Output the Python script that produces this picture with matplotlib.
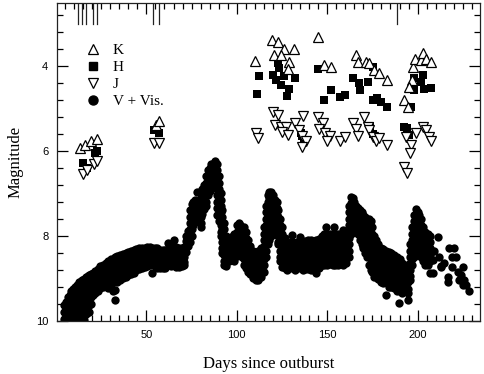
import numpy as np
import matplotlib
matplotlib.use("Agg")
import matplotlib.pyplot as plt
from matplotlib.ticker import MultipleLocator
from matplotlib.lines import Line2D

# ---------------- data (days since outburst, magnitude) ----------------
k_days = [13.5, 16.3, 19.1, 22.4, 55.1, 56.9, 110.1, 119.7, 123.0, 126.1, 131.7, 120.6, 124.3,
          128.9, 128.5, 145.0, 148.3, 152.0, 165.9, 167.3, 171.4, 173.2, 176.0, 178.8, 183.0,
          192.6, 194.5, 197.2, 198.7, 201.9, 203.2, 204.7, 207.4, 196.9, 195.0]
k_mags = [5.94, 5.86, 5.78, 5.72, 5.39, 5.31, 3.88, 3.40, 3.45, 3.61, 3.61, 3.74, 3.74,
          3.92, 4.07, 3.32, 3.98, 4.02, 3.74, 3.92, 3.90, 3.94, 4.09, 4.16, 4.33,
          4.80, 4.96, 4.02, 3.84, 3.86, 3.69, 3.84, 3.90, 4.33, 4.50]

h_days = [15.0, 21.8, 22.8, 17.0, 54.1, 56.9, 111.0, 112.3, 120.2, 122.8, 123.4, 121.6, 124.3,
          126.1, 128.9, 128.0, 132.2, 145.1, 148.3, 152.0, 157.2, 159.9, 164.0, 167.7, 168.3,
          172.3, 175.1, 175.5, 177.5, 179.7, 183.0, 196.3, 198.2, 201.9, 202.8, 203.7, 198.2,
          207.4, 194.1, 195.4, 192.6, 136.2, 137.4, 135.6, 173.8, 175.5]
h_mags = [6.28, 6.06, 6.00, 6.40, 5.52, 5.57, 4.67, 4.24, 4.21, 3.94, 4.05, 4.33, 4.45,
          4.23, 4.54, 4.72, 4.28, 4.08, 4.80, 4.57, 4.74, 4.68, 4.28, 4.41, 4.57,
          4.37, 4.02, 4.81, 4.76, 4.84, 4.97, 4.97, 4.28, 4.39, 4.22, 4.55, 4.57,
          4.52, 5.47, 5.63, 5.43, 5.66, 5.76, 5.58, 5.41, 5.60]

j_days = [15.0, 17.2, 20.9, 22.7, 54.1, 56.9, 110.8, 111.7, 120.1, 122.8, 121.0, 124.3, 127.1,
          125.2, 128.4, 132.1, 136.8, 134.5, 136.0, 138.2, 136.3, 145.0, 147.9, 145.5, 148.7,
          151.6, 150.1, 157.2, 159.8, 164.0, 165.9, 167.1, 170.1, 172.3, 173.2, 175.1, 177.0,
          178.8, 183.0, 193.6, 196.3, 196.0, 192.6, 194.1, 202.8, 204.7, 206.5, 207.4, 199.1]
j_mags = [6.54, 6.45, 6.31, 6.23, 5.81, 5.81, 5.59, 5.70, 5.08, 5.15, 5.39, 5.43, 5.43,
          5.55, 5.63, 5.34, 5.18, 5.51, 5.65, 5.78, 5.90, 5.21, 5.34, 5.49, 5.59,
          5.65, 5.76, 5.78, 5.67, 5.34, 5.49, 5.65, 5.21, 5.43, 5.51, 5.67, 5.78,
          5.70, 5.86, 5.67, 5.86, 6.06, 6.37, 6.53, 5.43, 5.51, 5.67, 5.78, 5.59]

# V + visual estimates: nights and the magnitudes read for each night
v_nights = [4.5, 5.5, 6.5, 7.5, 8.5, 9.5, 10.5, 11.5, 12.5, 13.5, 14.5, 15.5, 16.5, 17.5, 18.5,
            19.5, 20.5, 21.5, 23, 24.5, 26, 27.5, 29, 30.5, 31.5, 32.5, 34, 35.5, 37, 38.5,
            40, 41.5, 43, 44.5, 46, 47.5, 49, 50.5, 52, 53.2, 54.5, 56, 57.5, 59, 60.5,
            62, 63.5, 65, 66.5, 68, 69.5, 71, 72, 73, 74, 75, 76, 77, 78.1, 79,
            80, 81, 82, 83, 84, 85, 86, 87, 88, 89, 90, 91, 92, 93, 94,
            95.5, 97, 98.5, 100, 101, 102, 103, 104, 105, 106, 107.5, 109, 110.5, 112, 113.5,
            115, 116, 117, 118, 119, 120, 121, 122, 123, 124, 125, 126.5, 128, 129.5, 130.7,
            132, 133.5, 135, 136.5, 138, 139.5, 141, 142.5, 144, 145.5, 147, 148.5, 149.2, 150,
            151.5, 153, 153.8, 154.5, 156, 157.5, 159, 160.5, 162, 163, 164, 165, 166, 167,
            168, 169, 170, 171, 172, 173, 174, 175, 176, 177, 178, 179.5, 181, 182.5, 184,
            185.5, 187, 188.5, 189.5, 190, 191.5, 193, 194.5, 196, 197, 198, 199, 200, 201,
            202, 203, 204, 205.5, 207, 208.3, 209.3, 211.1, 211.9, 213, 214.8, 216.6, 217.6,
            219.1, 220.3, 221.3, 222.2, 223.1, 224.0, 224.9, 225.9, 226.8, 228.6]
v_mags = [
    [9.62, 9.8, 9.95], [9.55, 9.7, 9.88, 10.0], [9.45, 9.6, 9.78, 9.95],
    [9.4, 9.55, 9.7, 9.85, 9.98], [9.3, 9.45, 9.6, 9.76, 9.9], [9.25, 9.4, 9.55, 9.7, 9.85],
    [9.2, 9.35, 9.5, 9.65, 9.8, 9.95], [9.15, 9.3, 9.45, 9.6, 9.75, 9.9],
    [9.1, 9.25, 9.4, 9.55, 9.7, 9.85, 9.98], [9.08, 9.22, 9.36, 9.5, 9.65, 9.8, 9.92],
    [9.05, 9.18, 9.32, 9.48, 9.62, 9.76, 9.9], [9.02, 9.15, 9.3, 9.45, 9.6, 9.75, 9.9, 9.98],
    [8.98, 9.12, 9.26, 9.4, 9.55, 9.7, 9.84], [8.95, 9.08, 9.22, 9.36, 9.5, 9.65, 9.8],
    [8.93, 9.06, 9.2, 9.34, 9.48, 9.62, 9.79], [8.9, 9.03, 9.16, 9.3, 9.45, 9.6],
    [8.88, 9.0, 9.13, 9.26, 9.4], [8.82, 8.95, 9.08, 9.22, 9.35], [8.78, 8.9, 9.03, 9.16, 9.3],
    [8.72, 8.85, 8.98, 9.1, 9.22], [8.68, 8.8, 8.93, 9.06, 9.2], [8.65, 8.78, 8.9, 9.03, 9.16],
    [8.6, 8.72, 8.85, 8.98, 9.1, 9.22], [8.55, 8.68, 8.8, 8.93, 9.06, 9.2], [8.65, 8.8, 9.3],
    [8.5, 8.64, 8.78, 8.92, 9.06, 9.28, 9.51], [8.48, 8.6, 8.72, 8.85, 8.98, 9.1],
    [8.45, 8.57, 8.7, 8.82, 8.95, 9.05], [8.42, 8.54, 8.66, 8.78, 8.9, 9.0],
    [8.4, 8.52, 8.64, 8.76, 8.88, 8.96], [8.38, 8.5, 8.62, 8.74, 8.86, 8.93],
    [8.36, 8.48, 8.6, 8.72, 8.84, 8.9], [8.34, 8.46, 8.58, 8.7, 8.82, 8.88],
    [8.32, 8.44, 8.56, 8.68, 8.8], [8.3, 8.42, 8.54, 8.66, 8.78], [8.3, 8.41, 8.52, 8.64, 8.76],
    [8.28, 8.4, 8.52, 8.64, 8.74], [8.27, 8.38, 8.5, 8.62, 8.72], [8.26, 8.37, 8.48, 8.6, 8.7],
    [8.3, 8.45, 8.88], [8.28, 8.4, 8.52, 8.64, 8.72],
    [8.3, 8.42, 8.54, 8.66, 8.76], [8.33, 8.45, 8.57, 8.68, 8.76], [8.33, 8.45, 8.57, 8.68, 8.76],
    [8.33, 8.45, 8.57, 8.68, 8.76],
    [8.18, 8.32, 8.45, 8.58, 8.7], [8.2, 8.33, 8.46, 8.6, 8.72], [8.1, 8.28, 8.42, 8.56, 8.7],
    [8.26, 8.38, 8.5, 8.62, 8.74], [8.28, 8.4, 8.52, 8.64, 8.74], [8.28, 8.4, 8.52, 8.64, 8.72],
    [8.26, 8.38, 8.5, 8.62, 8.7],
    [8.0, 8.12, 8.25, 8.38], [7.88, 8.0, 8.12, 8.25], [7.4, 7.55, 7.7, 7.85, 8.0, 8.15],
    [7.25, 7.4, 7.55, 7.7, 7.85, 8.0], [7.2, 7.33, 7.47, 7.6, 7.75], [7.15, 7.28, 7.42, 7.55, 7.68],
    [6.96, 7.2, 7.35, 7.5], [7.2, 7.32, 7.45, 7.58],
    [7.1, 7.25, 7.4, 7.55, 7.7, 7.8], [6.9, 7.04, 7.18, 7.32, 7.48], [6.8, 6.94, 7.08, 7.22, 7.38],
    [6.6, 6.75, 6.9, 7.05, 7.2, 7.3], [6.45, 6.6, 6.75, 6.9, 7.05], [6.4, 6.53, 6.67, 6.8, 6.95],
    [6.32, 6.45, 6.58, 6.72, 6.85], [6.3, 6.42, 6.55, 6.68], [6.25, 6.38, 6.5, 6.62],
    [6.3, 6.45, 6.6, 6.75, 6.9, 7.05, 7.2, 7.35, 7.5], [6.6, 6.75, 6.9, 7.05, 7.2, 7.35, 7.5, 7.65],
    [7.0, 7.15, 7.3, 7.45, 7.6, 7.75, 7.9, 8.0], [7.4, 7.55, 7.7, 7.85, 8.0, 8.15, 8.3, 8.4],
    [7.7, 7.85, 8.0, 8.15, 8.3, 8.45, 8.6, 8.7], [8.0, 8.14, 8.28, 8.42, 8.56, 8.72],
    [8.1, 8.22, 8.35, 8.48, 8.6], [8.02, 8.15, 8.28, 8.42, 8.56], [7.95, 8.08, 8.22, 8.36, 8.5, 8.6],
    [7.75, 7.9, 8.05, 8.2, 8.35, 8.48], [7.7, 7.85, 8.0, 8.15, 8.3, 8.4], [7.75, 7.9, 8.05, 8.2, 8.35],
    [7.8, 7.95, 8.1, 8.25, 8.4, 8.5], [7.8, 7.95, 8.1, 8.25, 8.4, 8.55, 8.7],
    [7.9, 8.05, 8.2, 8.35, 8.5, 8.62, 8.75], [8.1, 8.25, 8.4, 8.55, 8.7, 8.85],
    [8.25, 8.38, 8.5, 8.64, 8.78, 8.9], [8.35, 8.48, 8.6, 8.74, 8.88, 9.0],
    [8.4, 8.53, 8.66, 8.8, 8.93, 9.03], [8.35, 8.48, 8.62, 8.76, 8.9, 9.04],
    [8.3, 8.44, 8.58, 8.72, 8.86, 8.98],
    [7.8, 7.95, 8.1, 8.25, 8.4, 8.55, 8.7, 8.85], [7.3, 7.45, 7.6, 7.75, 7.9, 8.05, 8.2, 8.35, 8.5],
    [7.05, 7.2, 7.35, 7.5, 7.65, 7.8, 7.95, 8.1, 8.2], [6.97, 7.12, 7.27, 7.42, 7.57, 7.72, 7.87, 8.0, 8.1],
    [6.96, 7.1, 7.25, 7.4, 7.55, 7.7, 7.85, 8.0], [7.05, 7.2, 7.35, 7.5, 7.65, 7.8, 7.9],
    [7.15, 7.3, 7.45, 7.6, 7.75, 7.9], [7.2, 7.35, 7.5, 7.65, 7.8, 7.95],
    [7.4, 7.55, 7.7, 7.85, 8.0, 8.15, 8.2], [7.6, 7.75, 7.9, 8.05, 8.2, 8.35, 8.5, 8.6],
    [7.8, 7.95, 8.1, 8.25, 8.4, 8.55, 8.73], [8.05, 8.18, 8.32, 8.46, 8.6, 8.75],
    [8.15, 8.28, 8.42, 8.56, 8.7, 8.8], [8.17, 8.3, 8.44, 8.58, 8.72], [7.98, 8.15, 8.3, 8.45, 8.6, 8.75],
    [8.17, 8.3, 8.44, 8.58, 8.72, 8.8], [8.15, 8.28, 8.42, 8.56, 8.7], [8.02, 8.18, 8.32, 8.46, 8.6, 8.75],
    [8.15, 8.28, 8.42, 8.56, 8.7, 8.8], [8.12, 8.25, 8.4, 8.55, 8.7, 8.78],
    [8.1, 8.24, 8.38, 8.52, 8.66, 8.78], [8.1, 8.24, 8.38, 8.52, 8.66, 8.8],
    [8.12, 8.26, 8.4, 8.54, 8.68, 8.8], [8.1, 8.25, 8.4, 8.55, 8.7, 8.88],
    [8.08, 8.22, 8.36, 8.5, 8.64, 8.76], [8.0, 8.14, 8.28, 8.42, 8.56, 8.7],
    [7.95, 8.1, 8.24, 8.38, 8.52, 8.68], [7.79], [7.95, 8.1, 8.24, 8.38, 8.52, 8.68],
    [7.97, 8.1, 8.24, 8.38, 8.52, 8.66], [7.95, 8.1, 8.24, 8.38, 8.52, 8.7], [7.79],
    [7.96, 8.1, 8.24, 8.38, 8.52, 8.68], [7.97, 8.1, 8.24, 8.38, 8.52, 8.7],
    [7.97, 8.1, 8.24, 8.38, 8.52, 8.66], [7.86, 8.0, 8.14, 8.28, 8.42, 8.56, 8.7],
    [7.95, 8.1, 8.24, 8.38, 8.52, 8.65], [7.3, 7.45, 7.6, 7.75, 7.9, 8.05, 8.2, 8.35, 8.5],
    [7.08, 7.22, 7.37, 7.52, 7.67, 7.82, 7.97], [7.1, 7.24, 7.38, 7.52, 7.66, 7.8, 7.9],
    [7.2, 7.34, 7.48, 7.62, 7.8], [7.3, 7.44, 7.58, 7.72, 7.86], [7.35, 7.5, 7.65, 7.8, 7.95],
    [7.4, 7.55, 7.7, 7.85, 8.0, 8.1], [7.45, 7.6, 7.75, 7.9, 8.05, 8.2],
    [7.5, 7.65, 7.8, 7.95, 8.1, 8.25, 8.3], [7.55, 7.7, 7.85, 8.0, 8.15, 8.3, 8.4],
    [7.6, 7.75, 7.9, 8.05, 8.2, 8.35, 8.5], [7.6, 7.75, 7.9, 8.05, 8.2, 8.35, 8.5, 8.7],
    [7.65, 7.8, 7.95, 8.1, 8.25, 8.4, 8.55, 8.7, 8.8], [7.8, 7.95, 8.1, 8.25, 8.4, 8.55, 8.7, 8.85],
    [8.0, 8.15, 8.3, 8.45, 8.6, 8.75, 8.96], [8.1, 8.24, 8.38, 8.52, 8.66, 8.8, 8.96],
    [8.2, 8.34, 8.48, 8.62, 8.76, 8.9, 9.02], [8.3, 8.44, 8.58, 8.72, 8.86, 9.0, 9.1],
    [8.32, 8.46, 8.6, 8.74, 8.88, 9.02, 9.12], [8.35, 8.5, 8.65, 8.8, 8.95, 9.1, 9.39],
    [8.38, 8.52, 8.66, 8.8, 8.94, 9.08, 9.2], [8.4, 8.54, 8.68, 8.82, 8.96, 9.1, 9.2],
    [8.45, 8.58, 8.72, 8.86, 9.0, 9.14, 9.22], [8.5, 8.64, 8.78, 8.92, 9.06, 9.2, 9.3], [9.59],
    [8.55, 8.7, 8.85, 9.0, 9.15, 9.3], [8.65, 8.8, 8.95, 9.1, 9.25, 9.35], [8.7, 8.85, 9.0, 9.15, 9.3],
    [8.8, 8.95, 9.1, 9.25, 9.35, 9.51], [8.2, 8.35, 8.5, 8.65, 8.8, 8.95, 9.05],
    [7.8, 7.95, 8.1, 8.25, 8.4, 8.55, 8.7], [7.5, 7.65, 7.8, 7.95, 8.1, 8.25, 8.4, 8.5],
    [7.38, 7.52, 7.66, 7.8, 7.94, 8.08, 8.22, 8.4], [7.45, 7.6, 7.75, 7.9, 8.05, 8.2, 8.4],
    [7.5, 7.65, 7.8, 7.95, 8.1, 8.25, 8.45], [7.6, 7.75, 7.9, 8.05, 8.2, 8.35, 8.5],
    [7.8, 7.94, 8.08, 8.22, 8.36, 8.5, 8.6], [7.9, 8.04, 8.18, 8.32, 8.46, 8.6, 8.7],
    [7.95, 8.1, 8.25, 8.4, 8.55, 8.7], [8.0, 8.15, 8.3, 8.45, 8.6, 8.88],
    [8.57, 8.88], [8.37], [8.02], [8.49], [8.73, 8.71], [8.65], [8.96, 9.08], [8.3],
    [8.73, 8.49], [8.3], [8.49], [8.85], [9.04], [8.92], [8.73, 9.16], [9.04], [9.16], [9.29],
]

# epochs marked along the top axis
mark_days = [12.0, 14.2, 16.5, 20.5, 22.7, 53.7, 56.9, 188.6]

# ---------------- figure ----------------
fig = plt.figure(figsize=(4.85, 3.74), dpi=100)
ax = fig.add_axes([0.1181, 0.1425, 0.8715, 0.8495])

vx = np.concatenate([[d] * len(m) for d, m in zip(v_nights, v_mags)])
vy = np.concatenate([np.asarray(m, float) for m in v_mags])

ax.plot(vx, vy, 'o', color='black', ms=6.0, mew=0, zorder=2)
ax.plot(h_days, h_mags, 's', color='black', ms=5.4, mew=0, zorder=3)
ax.plot(j_days, j_mags, 'v', mfc='white', mec='black', ms=7, mew=0.9, zorder=4)
ax.plot(k_days, k_mags, '^', mfc='white', mec='black', ms=7, mew=0.9, zorder=5)

for d in mark_days:
    ax.axvline(d, ymin=0.934, ymax=1.0, color='#222222', lw=0.9, zorder=6)

ax.set_xlim(0.7, 234.5)
ax.set_ylim(10, 2.52)

ax.xaxis.set_major_locator(MultipleLocator(50))
ax.xaxis.set_minor_locator(MultipleLocator(5))
ax.yaxis.set_major_locator(MultipleLocator(2))
ax.yaxis.set_minor_locator(MultipleLocator(0.4))
ax.xaxis.set_tick_params(which='major', direction='in', top=True, bottom=True,
                         length=8, width=0.9, color='black', labelsize=8, pad=6.5)
ax.xaxis.set_tick_params(which='minor', direction='in', top=True, bottom=True,
                         length=4.5, width=0.9, color='black')
ax.yaxis.set_tick_params(which='major', direction='in', left=True, right=True,
                         length=8, width=0.9, color='black', labelsize=8, pad=6.5)
ax.yaxis.set_tick_params(which='minor', direction='in', left=True, right=True,
                         length=4, width=0.9, color='black')
for lab in ax.get_xticklabels() + ax.get_yticklabels():
    lab.set_family('Liberation Sans')
for sp in ax.spines.values():
    sp.set_linewidth(0.9)
    sp.set_color('#222222')
    sp.set_zorder(7)

ax.set_xlabel('Days since outburst', family='Liberation Serif', fontsize=12, labelpad=12)
ax.set_ylabel('Magnitude', family='Liberation Serif', fontsize=12, labelpad=9)

handles = [Line2D([], [], ls='none', marker='^', mfc='white', mec='black', ms=7, mew=0.9),
           Line2D([], [], ls='none', marker='s', color='black', ms=6),
           Line2D([], [], ls='none', marker='v', mfc='white', mec='black', ms=7, mew=0.9),
           Line2D([], [], ls='none', marker='o', color='black', ms=6.5)]
leg = ax.legend(handles, ['K', 'H', 'J', 'V + Vis.'], loc='upper left',
                bbox_to_anchor=(0.053, 0.892), frameon=False, handlelength=1.0,
                handletextpad=0.75, labelspacing=0.22, borderaxespad=0,
                prop={'family': 'Liberation Serif', 'size': 11})

fig.savefig('out.png', dpi=100)
